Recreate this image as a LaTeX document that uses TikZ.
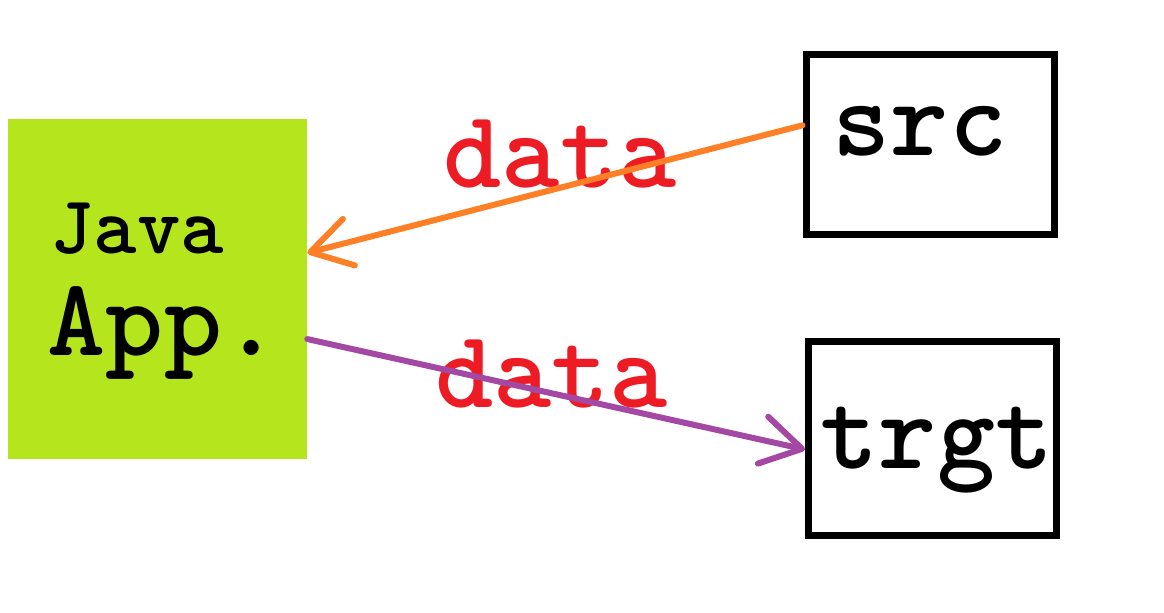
\documentclass[tikz,border=0pt]{standalone}
\usepackage{fontspec}
\usetikzlibrary{arrows.meta,calc}
\definecolor{appgreen}{HTML}{B5E61D}
\definecolor{srcorange}{HTML}{FF7F27}
\definecolor{trgtpurple}{HTML}{A349A4}
\definecolor{datared}{HTML}{ED1C24}
\tikzset{
  box/.style={draw, line width=5.25pt, minimum width=186pt, minimum height=135pt, inner sep=0pt},
  word/.style={font=\ttfamily\bfseries\fontsize{83}{83}\selectfont, anchor=base, inner sep=0pt},
  flow/.style={line width=4.5pt, line cap=round, -{Straight Barb[round,length=30pt,width=36pt]}}
}
\begin{document}
\begin{tikzpicture}[x=0.75pt,y=-0.75pt]
            \useasboundingbox (0,0) rectangle (1164,612);
            \node[fill=appgreen, minimum width=224.25pt, minimum height=255pt, inner sep=0pt] (app) at (157.5,289) {};
            \node[box] (srcbox) at (930,144) {};
            \node[box, minimum height=145.5pt] (trgtbox) at (932.5,438) {};
            \node[word] (src) at (920,155) {src};
            \node[word] (trgt) at (937,468) {trgt};
            \node[word, font=\ttfamily\bfseries\fontsize{62}{62}\selectfont] (java) at (137,253) {Java};
            \node[word] (appname) at (164,355) {App.};
            \node[word, text=datared] (data1) at (560,187) {data};
            \node[word, text=datared] (data2) at (551.5,407) {data};
            \draw[flow, srcorange] ($(srcbox.north west)!0.4!(srcbox.south west)$) -- ($(app.north east)!0.394!(app.south east)$);
            \draw[flow, trgtpurple] ($(app.north east)!0.647!(app.south east)$) -- ($(trgtbox.north west)!0.557!(trgtbox.south west)$);
        \end{tikzpicture}
\end{document}
